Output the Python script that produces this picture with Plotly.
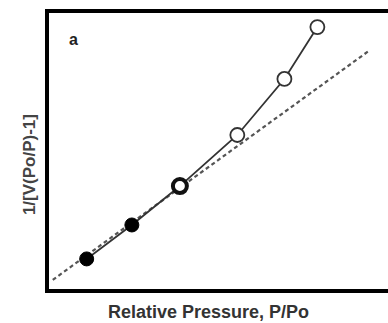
import plotly.graph_objects as go

# Data (relative pressure P/Po, BET transform)
filled_x = [0.040, 0.088]
filled_y = [0.109, 0.232]
mid_x = [0.139]
mid_y = [0.373]
open_x = [0.200, 0.250, 0.285]
open_y = [0.558, 0.761, 0.949]
all_x = filled_x + mid_x + open_x
all_y = filled_y + mid_y + open_y
fit_x = [0.004, 0.341]
fit_y = [0.033, 0.866]

fig = go.Figure()
fig.add_trace(go.Scatter(x=fit_x, y=fit_y, mode="lines",
                         line=dict(color="#555", width=2.2, dash="4px,3px")))
fig.add_trace(go.Scatter(x=all_x, y=all_y, mode="lines",
                         line=dict(color="#333", width=1.8)))
fig.add_trace(go.Scatter(x=filled_x, y=filled_y, mode="markers",
                         marker=dict(size=14, color="black", line=dict(color="black", width=1))))
fig.add_trace(go.Scatter(x=mid_x, y=mid_y, mode="markers",
                         marker=dict(size=14, color="white", line=dict(color="#111", width=4))))
fig.add_trace(go.Scatter(x=open_x, y=open_y, mode="markers",
                         marker=dict(size=14, color="white", line=dict(color="#333", width=1.8))))

fig.add_annotation(x=0.026, y=0.905, xref="x", yref="y", text="<b>a</b>", showarrow=False,
                   font=dict(family="Liberation Sans", size=16, color="#222"))
fig.add_annotation(x=0.47, y=-0.04, xref="paper", yref="paper", yanchor="top",
                   text="<b>Relative Pressure, P/Po</b>", showarrow=False,
                   font=dict(family="Liberation Sans", size=18, color="#333"))
fig.add_annotation(x=-0.092, y=0.45, xref="paper", yref="paper", textangle=-90,
                   text="<b>1/[V(Po/P)-1]</b>", showarrow=False,
                   font=dict(family="Liberation Sans", size=17, color="#444"))

fig.update_xaxes(range=[0, 0.36], showgrid=False, zeroline=False, showticklabels=False,
                 ticks="", showline=True, linecolor="black", linewidth=4, mirror=True)
fig.update_yaxes(range=[0, 1.0], showgrid=False, zeroline=False, showticklabels=False,
                 ticks="", showline=True, linecolor="black", linewidth=4, mirror=False)

fig.update_layout(width=388, height=323, margin=dict(l=49, r=0, t=13, b=34),
                  plot_bgcolor="white", paper_bgcolor="white", showlegend=False)
fig.write_html("out.html")
